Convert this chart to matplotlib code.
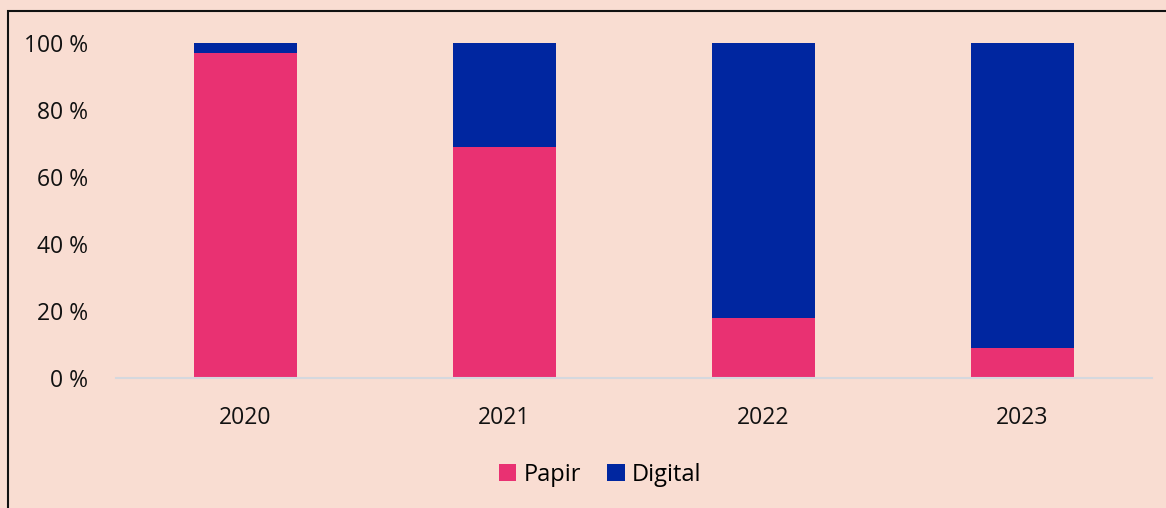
import matplotlib.pyplot as plt
from matplotlib.patches import Rectangle

years = ["2020", "2021", "2022", "2023"]
papir = [97, 69, 18, 9]
digital = [3, 31, 82, 91]

bg = "#F9DDD2"
pink = "#E93172"
blue = "#0026A0"

plt.rcParams['font.family'] = ['Open Sans', 'DejaVu Sans']

fig = plt.figure(figsize=(11.66, 5.08), dpi=100, facecolor=bg)
ax = fig.add_axes([116/1166, 1 - 378/508, 1036/1166, 335/508], facecolor=bg)

x = range(len(years))
ax.bar(x, papir, width=0.4, color=pink, label="Papir")
ax.bar(x, digital, width=0.4, bottom=papir, color=blue, label="Digital")

ax.set_xlim(-0.5, 3.5)
ax.set_ylim(0, 100)
ax.set_yticks([0, 20, 40, 60, 80, 100])
ax.set_yticklabels([f"{v} %" for v in [0, 20, 40, 60, 80, 100]])
ax.set_xticks(list(x))
ax.set_xticklabels(years)
ax.tick_params(axis='both', length=0, labelsize=16.5, colors="#111111")
ax.tick_params(axis='y', pad=20)
ax.tick_params(axis='x', pad=20)

for s in ["top", "right", "left"]:
    ax.spines[s].set_visible(False)
ax.spines["bottom"].set_color("#D5D8DE")
ax.spines["bottom"].set_linewidth(1.5)

leg = fig.legend(loc="center", bbox_to_anchor=(600/1166, 1 - 475/508), ncol=2,
                 frameon=False, fontsize=17, handlelength=0.75, handleheight=0.75,
                 handletextpad=0.3, columnspacing=1.1)

# outer frame, partly cut off by the image edge
fig.patches.append(Rectangle((8/1166, -0.1), 1.2, 1 - 11/508 + 0.1, transform=fig.transFigure,
                             fill=False, edgecolor="#111111", linewidth=1.5))

fig.savefig("out.png", dpi=100, facecolor=bg)
